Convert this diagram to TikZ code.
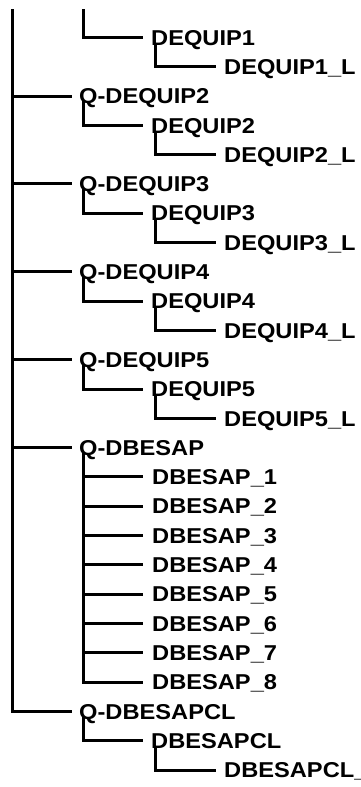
\documentclass[tikz,border=0pt]{standalone}
\usepackage{fontspec}
\setmainfont{Liberation Sans}[FakeStretch=1.1]

\begin{document}
\begin{tikzpicture}[x=1pt, y=-1pt,
  item/.style={anchor=west, inner sep=0pt, text height=15.4pt, text depth=0pt,
    font=\bfseries\fontsize{21.5}{21.5}\selectfont},
  conn/.style={line width=3pt}]

\useasboundingbox (0,0) rectangle (360,787);
\clip (0,0) rectangle (360,787);

% tree items
\node[item] (dequip1)   at (151,37.5)  {DEQUIP1};
\node[item] (dequip1l)  at (224,66.5)  {DEQUIP1\_L};
\node[item] (qdequip2)  at (79,96.0)   {Q-DEQUIP2};
\node[item] (dequip2)   at (151,125.5) {DEQUIP2};
\node[item] (dequip2l)  at (224,154.5) {DEQUIP2\_L};
\node[item] (qdequip3)  at (79,183.8)  {Q-DEQUIP3};
\node[item] (dequip3)   at (151,213.2) {DEQUIP3};
\node[item] (dequip3l)  at (224,242.4) {DEQUIP3\_L};
\node[item] (qdequip4)  at (79,271.8)  {Q-DEQUIP4};
\node[item] (dequip4)   at (151,301.1) {DEQUIP4};
\node[item] (dequip4l)  at (224,330.4) {DEQUIP4\_L};
\node[item] (qdequip5)  at (79,359.7)  {Q-DEQUIP5};
\node[item] (dequip5)   at (151,389.0) {DEQUIP5};
\node[item] (dequip5l)  at (224,418.3) {DEQUIP5\_L};
\node[item] (qdbesap)   at (79,447.6)  {Q-DBESAP};
\node[item] (dbesap1)   at (152,476.9) {DBESAP\_1};
\node[item] (dbesap2)   at (152,506.2) {DBESAP\_2};
\node[item] (dbesap3)   at (152,535.5) {DBESAP\_3};
\node[item] (dbesap4)   at (152,564.8) {DBESAP\_4};
\node[item] (dbesap5)   at (152,594.1) {DBESAP\_5};
\node[item] (dbesap6)   at (152,623.4) {DBESAP\_6};
\node[item] (dbesap7)   at (152,652.7) {DBESAP\_7};
\node[item] (dbesap8)   at (152,682.0) {DBESAP\_8};
\node[item] (qdbesapcl) at (79,711.4)  {Q-DBESAPCL};
\node[item] (dbesapcl)  at (151,740.7) {DBESAPCL};
\node[item] (dbesapcll) at (224,770.0) {DBESAPCL\_};

% trunk and the cut-off branch above
\coordinate (trunk) at (12,9);
\coordinate (qtop) at (83,9);
\coordinate (besapbar) at ([xshift=4pt,yshift=-5pt]qdbesap.west);

\draw[conn] (trunk) |- ([xshift=-7pt]qdbesapcl.west);
\draw[conn] (trunk |- qdequip2.west) -- ([xshift=-7pt]qdequip2.west);
\draw[conn] (trunk |- qdequip3.west) -- ([xshift=-7pt]qdequip3.west);
\draw[conn] (trunk |- qdequip4.west) -- ([xshift=-7pt]qdequip4.west);
\draw[conn] (trunk |- qdequip5.west) -- ([xshift=-7pt]qdequip5.west);
\draw[conn] (trunk |- qdbesap.west) -- ([xshift=-7pt]qdbesap.west);

\draw[conn] (qtop) |- ([xshift=-8pt]dequip1.west);
\draw[conn] ([xshift=4pt,yshift=-5pt]dequip1.west) |- ([xshift=-8pt]dequip1l.west);
\draw[conn] ([xshift=4pt,yshift=-5pt]qdequip2.west) |- ([xshift=-8pt]dequip2.west);
\draw[conn] ([xshift=4pt,yshift=-5pt]dequip2.west) |- ([xshift=-8pt]dequip2l.west);
\draw[conn] ([xshift=4pt,yshift=-5pt]qdequip3.west) |- ([xshift=-8pt]dequip3.west);
\draw[conn] ([xshift=4pt,yshift=-5pt]dequip3.west) |- ([xshift=-8pt]dequip3l.west);
\draw[conn] ([xshift=4pt,yshift=-5pt]qdequip4.west) |- ([xshift=-8pt]dequip4.west);
\draw[conn] ([xshift=4pt,yshift=-5pt]dequip4.west) |- ([xshift=-8pt]dequip4l.west);
\draw[conn] ([xshift=4pt,yshift=-5pt]qdequip5.west) |- ([xshift=-8pt]dequip5.west);
\draw[conn] ([xshift=4pt,yshift=-5pt]dequip5.west) |- ([xshift=-8pt]dequip5l.west);

\draw[conn] (besapbar) |- ([xshift=-9pt]dbesap8.west);
\draw[conn] (besapbar |- dbesap1.west) -- ([xshift=-9pt]dbesap1.west);
\draw[conn] (besapbar |- dbesap2.west) -- ([xshift=-9pt]dbesap2.west);
\draw[conn] (besapbar |- dbesap3.west) -- ([xshift=-9pt]dbesap3.west);
\draw[conn] (besapbar |- dbesap4.west) -- ([xshift=-9pt]dbesap4.west);
\draw[conn] (besapbar |- dbesap5.west) -- ([xshift=-9pt]dbesap5.west);
\draw[conn] (besapbar |- dbesap6.west) -- ([xshift=-9pt]dbesap6.west);
\draw[conn] (besapbar |- dbesap7.west) -- ([xshift=-9pt]dbesap7.west);

\draw[conn] ([xshift=4pt,yshift=-5pt]qdbesapcl.west) |- ([xshift=-8pt]dbesapcl.west);
\draw[conn] ([xshift=4pt,yshift=-5pt]dbesapcl.west) |- ([xshift=-8pt]dbesapcll.west);

\end{tikzpicture}
\end{document}
